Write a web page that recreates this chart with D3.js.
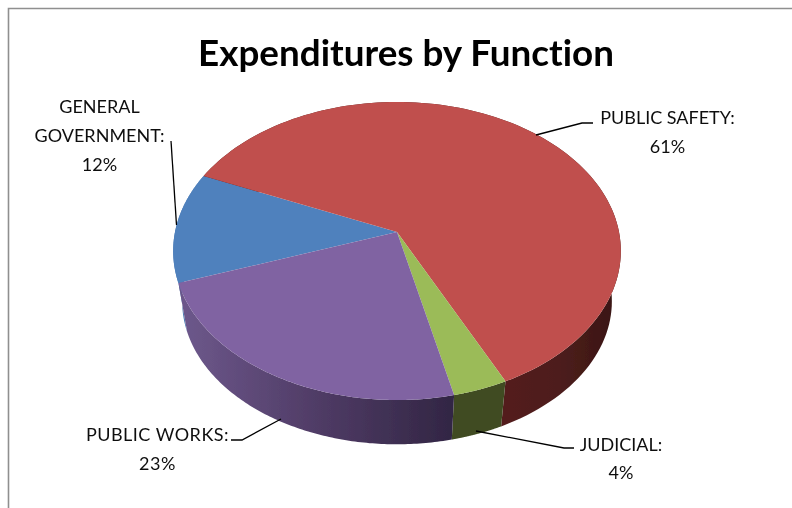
<!DOCTYPE html>
<html>
<head>
<meta charset="utf-8">
<script src="https://cdn.jsdelivr.net/npm/d3@7"></script>
<style>
html,body{margin:0;padding:0;background:#fff}
svg{display:block}
text{font-family:Lato,"Open Sans",sans-serif;fill:#111;font-variant-ligatures:none}
</style>
</head>
<body>
<svg id="chart" width="792" height="508"></svg>
<script>
const categories = ["GENERAL GOVERNMENT", "PUBLIC SAFETY", "JUDICIAL", "PUBLIC WORKS"];
const values = [12, 61.3, 3.5, 23.2];
const colors = ["#4f81bd", "#c0504d", "#9bbb59", "#8064a2"];
const wallColors = [
  ["#4a7ab3", "#4a7ab3"],
  ["#531f1e", "#4e1e1c", "#3b1614"],
  ["#3f4b20", "#3f4b20"],
  ["#6c578a", "#4f3b65", "#322644"]
];
const title = "Expenditures by Function";
const labelLines = [
  ["GENERAL", "GOVERNMENT:", "12%"],
  ["PUBLIC SAFETY:", "61%"],
  ["JUDICIAL:", "4%"],
  ["PUBLIC WORKS:", "23%"]
];
const labelCenters = [[99.5, 113], [667.5, 124], [621, 451], [157.5, 441]];
const lineGaps = [29, 29, 28, 29];
const labelSpacing = [0, 0, 0, 0.5];
const leaders = [
  [[171, 141], [176.5, 225]],
  [[536, 135], [582, 123], [593, 123]],
  [[476, 431], [564, 448], [574, 448]],
  [[281, 419], [242, 440], [231, 440]]
];

const svg = d3.select("#chart");
const defs = svg.append("defs");
defs.append("filter").attr("id", "soft").attr("x", "-5%").attr("y", "-5%").attr("width", "110%").attr("height", "110%")
  .append("feGaussianBlur").attr("stdDeviation", 0.5);
defs.append("filter").attr("id", "softText").attr("x", "-5%").attr("y", "-20%").attr("width", "110%").attr("height", "140%")
  .append("feGaussianBlur").attr("stdDeviation", 0.3);

// frame
svg.append("path").attr("d", "M8.5,508V8.5H792").attr("fill", "none").attr("stroke", "#8f8f8f").attr("stroke-width", 1.6);

// perspective disc
const cx = 397, apexY = 232, k = 0.1275;
const scaleU = d3.scaleLinear().domain([-1, 1]).range([-222, 222]);
const scaleV = d3.scaleLinear().domain([-1, 1]).range([-146.6, 146.6]);
const wallOffset = 51, wallShrink = 0.96;
const rotation = 250.5 * Math.PI / 180;

function project(a, bottom) {
  const u = Math.sin(a), v = -Math.cos(a), w = 1 - k * v;
  const s = bottom ? wallShrink : 1;
  return [cx + s * scaleU(u) / w, apexY + (bottom ? wallOffset : 0) + s * scaleV(v) / w];
}
const pieAngles = d3.pie().sort(null).value(d => d).startAngle(rotation).endAngle(rotation + 2 * Math.PI)(values);
const arcPts = (a0, a1, bottom) => d3.range(0, 121).map(i => project(a0 + (a1 - a0) * i / 120, bottom));
const line = d3.line();

const pieG = svg.append("g").attr("filter", "url(#soft)");

// side walls
pieAngles.forEach((d, i) => {
  const top = arcPts(d.startAngle, d.endAngle, false);
  const bot = arcPts(d.startAngle, d.endAngle, true);
  const poly = top.concat(bot.slice().reverse());
  const xs = d3.extent(bot.filter(p => p[1] > apexY + wallOffset), p => p[0]);
  const grad = defs.append("linearGradient").attr("id", "wall" + i).attr("gradientUnits", "userSpaceOnUse")
    .attr("x1", xs[0]).attr("x2", xs[1]).attr("y1", 0).attr("y2", 0);
  wallColors[i].forEach((c, j, arr) => grad.append("stop").attr("offset", j / (arr.length - 1)).attr("stop-color", c));
  pieG.append("path").attr("d", line(poly) + "Z").attr("fill", `url(#wall${i})`);
});

// top faces
pieAngles.forEach((d, i) => {
  const pts = [[cx, apexY]].concat(arcPts(d.startAngle, d.endAngle, false));
  pieG.append("path").attr("d", line(pts) + "Z").attr("fill", colors[i]);
});

// leaders
svg.append("g").selectAll("path").data(leaders).join("path")
  .attr("d", d => line(d)).attr("fill", "none").attr("stroke", "#000").attr("stroke-width", 1.3);

// texts
const textG = svg.append("g").attr("filter", "url(#softText)");
textG.append("text").text(title).attr("x", 406).attr("y", 65.5).attr("text-anchor", "middle")
  .attr("font-size", 36.8).attr("font-weight", 700).style("fill", "#000");

labelLines.forEach((lines, i) => {
  lines.forEach((t, j) => {
    textG.append("text").text(t)
      .attr("x", labelCenters[i][0])
      .attr("y", labelCenters[i][1] + j * lineGaps[i])
      .attr("text-anchor", "middle").attr("font-size", 18)
      .attr("letter-spacing", labelSpacing[i]);
  });
});
</script>
</body>
</html>
